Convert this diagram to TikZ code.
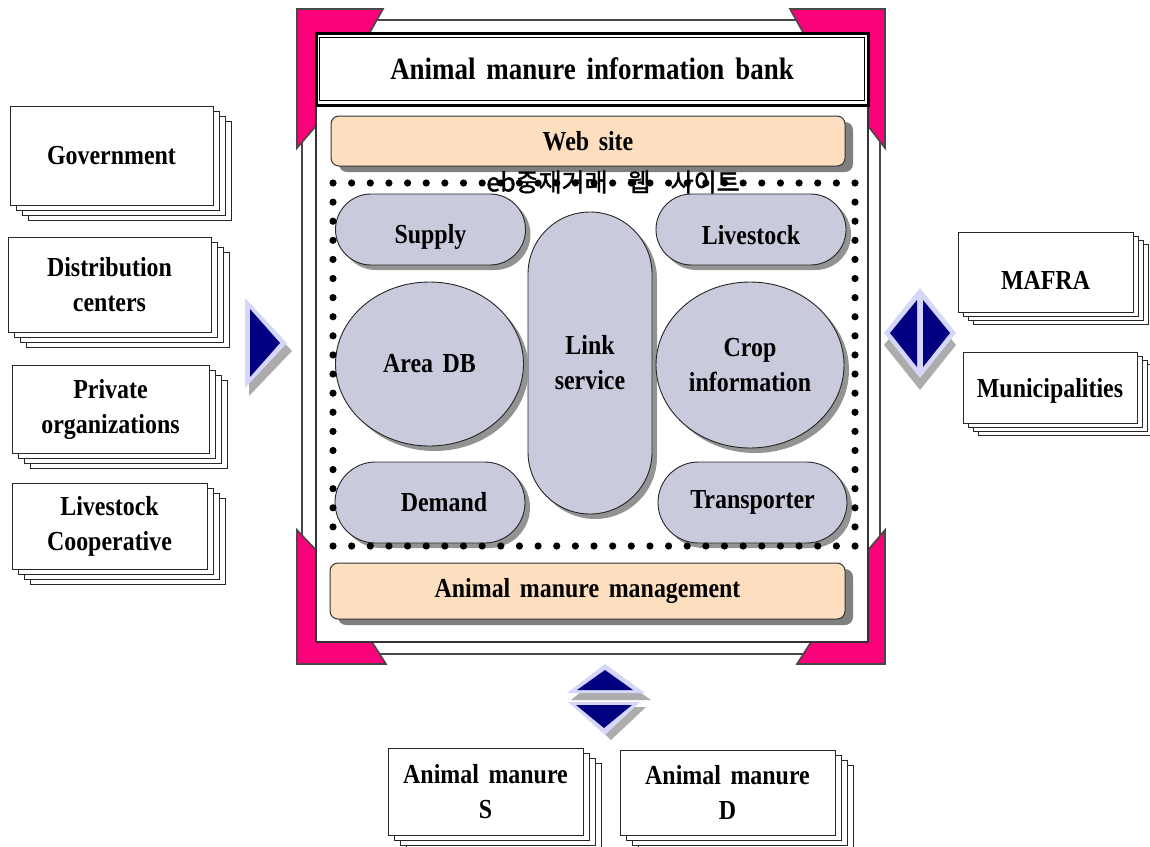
\documentclass[tikz,border=0pt]{standalone}
\usepackage{fontspec}
\setmainfont{Liberation Serif}[FakeStretch=0.87,WordSpace=1.6]
\newfontfamily\kofont{Noto Sans CJK KR}[FakeBold=1.6]
\usetikzlibrary{shapes.misc,shapes.geometric,shadows}

\definecolor{cornerpink}{RGB}{250,0,122}
\definecolor{rimgrey}{RGB}{72,72,72}
\definecolor{peach}{RGB}{253,223,192}
\definecolor{lavender}{RGB}{201,202,220}
\definecolor{navyblue}{RGB}{0,0,128}
\definecolor{arrowrim}{RGB}{214,214,248}
\definecolor{arrowshade}{RGB}{172,172,172}
\definecolor{boxshade}{RGB}{128,128,128}

\tikzset{
  txt/.style={font=\fontsize{27.5}{35}\selectfont\bfseries, align=center},
  sheet/.style={draw=black!85, line width=0.9pt, fill=white},
  stackL/.style={rectangle, sheet, inner sep=0pt, txt,
    copy shadow={sheet, shadow xshift=18pt, shadow yshift=-15pt},
    copy shadow={sheet, shadow xshift=12pt, shadow yshift=-10pt},
    copy shadow={sheet, shadow xshift=6pt, shadow yshift=-5pt}},
  stackR/.style={rectangle, sheet, inner sep=0pt, txt,
    copy shadow={sheet, shadow xshift=15pt, shadow yshift=-12pt},
    copy shadow={sheet, shadow xshift=10pt, shadow yshift=-8pt},
    copy shadow={sheet, shadow xshift=5pt, shadow yshift=-4pt}},
  panel/.style={rectangle, rounded corners=8pt, draw=black!80, line width=1pt,
    fill=peach, inner sep=0pt, txt,
    drop shadow={shadow xshift=8pt, shadow yshift=-6pt, fill=boxshade, opacity=1}},
  cell/.style={draw=black!85, line width=0.9pt, fill=lavender, inner sep=0pt, txt,
    drop shadow={shadow xshift=5pt, shadow yshift=-5pt, fill=boxshade!85, opacity=1}},
  bracket/.style={fill=cornerpink, draw=rimgrey, line width=1.6pt, line join=miter},
  rim/.style={fill=arrowrim},
  core/.style={fill=navyblue},
  shade/.style={fill=arrowshade},
}

\begin{document}
\begin{tikzpicture}[x=1pt,y=-1pt]
\useasboundingbox[fill=white] (0,0) rectangle (1150,846);

% ---- frame of the information bank ----
\draw[rimgrey, line width=2pt, fill=white] (302,20) rectangle (880,654);
\draw[bracket] (297,9) -- (383,9) -- (369,34) -- (316,34) -- (316,126) -- (297,148) -- cycle;
\draw[bracket] (885,9) -- (790,9) -- (804,34) -- (868,34) -- (868,126) -- (885,148) -- cycle;
\draw[bracket] (297,664) -- (386,664) -- (372,642) -- (316,642) -- (316,550) -- (297,530) -- cycle;
\draw[bracket] (885,664) -- (797,664) -- (811,642) -- (868,642) -- (868,550) -- (885,530) -- cycle;
\draw[black!80, line width=2.8pt, fill=white] (316,33) rectangle (868,642);

% title with double rule
\node[draw=black, line width=3pt, minimum width=552pt, minimum height=72pt, inner sep=0pt,
      font=\fontsize{31}{36}\selectfont\bfseries] (bank) at (592,69) {Animal manure information bank};
\draw[black, line width=1.6pt] ([xshift=5pt,yshift=-6pt]bank.north west) rectangle ([xshift=-5pt,yshift=6pt]bank.south east);

% web site and management bars
\node[panel, minimum width=514pt, minimum height=50pt] (web) at (588,141) {Web site};
\node[panel, minimum width=515pt, minimum height=56pt] (mgmt) at (587.5,591) {Animal manure management};

% Korean caption over the dotted boundary
\node[font=\kofont\fontsize{25}{25}\selectfont, inner sep=0pt] (kor) at (613,182)
  {eb중재거래\hspace{20pt}웹\hspace{20pt}사이트};

% service cells
\node[cell, rectangle, rounded corners=35.5pt, minimum width=190pt, minimum height=71pt] (supply) at (430.5,229.5) {};
\node[txt] (supplyT) at ([yshift=-7pt]supply.center) {Supply};
\node[cell, rectangle, rounded corners=35.5pt, minimum width=190pt, minimum height=71pt] (livestock) at (751,229.5) {};
\node[txt] (livestockT) at ([yshift=-6pt]livestock.center) {Livestock};
\node[cell, rectangle, rounded corners=62pt, minimum width=124pt, minimum height=302pt] (link) at (590,363) {Link\\service};
\node[cell, ellipse, minimum width=188pt, minimum height=164pt] (area) at (429.5,364) {Area DB};
\node[cell, ellipse, minimum width=188pt, minimum height=166pt] (crop) at (750,365) {Crop\\information};
\node[cell, rectangle, rounded corners=40.5pt, minimum width=190pt, minimum height=81pt] (demand) at (430,502.5) {\hspace*{28pt}Demand};
\node[cell, rectangle, rounded corners=40.5pt, minimum width=189pt, minimum height=81pt] (transp) at (752.5,502.5) {Transporter};

% dotted boundary
\foreach \i in {0,...,28} {
  \fill (333+\i*18.643,183) circle (3.6pt);
  \fill (333+\i*18.643,546) circle (3.6pt);
}
\foreach \j in {1,...,18} {
  \fill (333,183+\j*19.105) circle (3.6pt);
  \fill (855,183+\j*19.105) circle (3.6pt);
}

% ---- partner stacks ----
\node[stackL, minimum width=203pt, minimum height=99pt] (gov) at (111.5,155.5) {Government};
\node[stackL, minimum width=203pt, minimum height=95pt] (dist) at (109.5,284.5) {Distribution\\centers};
\node[stackL, minimum width=197pt, minimum height=88pt] (priv) at (110.5,409) {Private\\organizations};
\node[stackL, minimum width=195pt, minimum height=86pt] (coop) at (109.5,526) {Livestock\\Cooperative};

\node[stackR, minimum width=175pt, minimum height=80pt] (mafra) at (1045.5,272) {};
\node[txt] (mafraT) at ([yshift=-8pt]mafra.center) {MAFRA};
\node[stackR, minimum width=174pt, minimum height=71pt] (muni) at (1050,387.5) {};
\node[txt] (muniT) at ([yshift=-3pt]muni.center) {Municipalities};

\node[stackL, minimum width=195pt, minimum height=87pt] (manS) at (485.5,791.5) {Animal manure\\S};
\node[stackL, minimum width=215pt, minimum height=85pt] (manD) at (727.5,792.5) {Animal manure\\D};

% ---- flow arrows ----
% inflow from the left
\fill[shade] (249,306) -- (292,351) -- (249,396) -- cycle;
\fill[rim] (245,298) -- (287,343) -- (245,388) -- cycle;
\fill[core] (250,309) -- (280,343) -- (250,377) -- cycle;

% exchange with the right
\fill[shade] (884,345) -- (920,300) -- (956,345) -- (920,390) -- cycle;
\fill[rim] (884,333) -- (920,288) -- (956,333) -- (920,378) -- cycle;
\fill[core] (890,333) -- (917,300) -- (917,367) -- cycle;
\fill[core] (923,300) -- (950,333) -- (923,367) -- cycle;

% exchange with the bottom
\fill[shade] (571,700) -- (609,670) -- (651,700) -- cycle;
\fill[rim] (567,693) -- (605,664) -- (645,693) -- cycle;
\fill[core] (577,690) -- (605,670) -- (633,690) -- cycle;
\fill[shade] (576,707) -- (646,707) -- (611,740) -- cycle;
\fill[rim] (568,702) -- (640,702) -- (605,735) -- cycle;
\fill[core] (576,705) -- (632,705) -- (604,728) -- cycle;
\end{tikzpicture}
\end{document}
